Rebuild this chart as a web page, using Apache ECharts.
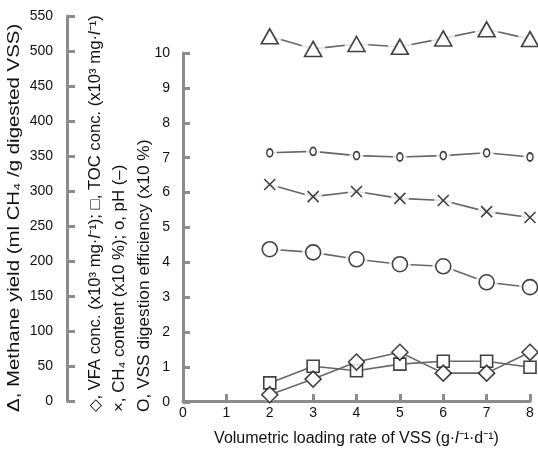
<!DOCTYPE html>
<html>
<head>
<meta charset="utf-8">
<script src="https://cdn.jsdelivr.net/npm/echarts@6/dist/echarts.min.js"></script>
<style>
    html, body { margin: 0; padding: 0; background: #fff; }
    #chart { width: 538px; height: 452px; }
</style>
</head>
<body>
<div id="chart"></div>
<script>
    // values
    const loadingRate = [2, 3, 4, 5, 6, 7, 8];
    const methaneYield = [521, 503, 510, 506, 518, 531, 517];
    const vfaConc = [0.18, 0.63, 1.12, 1.40, 0.80, 0.80, 1.40];
    const tocConc = [0.52, 1.00, 0.87, 1.06, 1.14, 1.14, 0.97];
    const ch4Content = [6.22, 5.87, 6.02, 5.82, 5.76, 5.44, 5.27];
    const phValue = [7.13, 7.17, 7.05, 7.01, 7.05, 7.13, 7.01];
    const vssEfficiency = [4.36, 4.27, 4.07, 3.93, 3.87, 3.41, 3.27];

    const FONT = "'Liberation Sans', Arial, sans-serif";
    const AXIS_GREY = '#8c8c8c';
    const LINE_GREY = '#666';

    let chart = echarts.init(document.getElementById('chart'));

    const crossPath = 'path://M0,0L10,10M10,0L0,10';

    // line + white halo + marker, drawn in three layers so lines stop short of the markers
    function makeSeries(name, values, yIndex, symbol, size, halo) {
        let pts = loadingRate.map((x, i) => [x, values[i]]);
        return [
            {
                name: name + '-line', type: 'line', xAxisIndex: 0, yAxisIndex: yIndex,
                data: pts, showSymbol: false, symbol: 'none', clip: false, z: 2,
                lineStyle: {color: LINE_GREY, width: 1.6}
            },
            {
                name: name + '-halo', type: 'scatter', xAxisIndex: 0, yAxisIndex: yIndex,
                data: pts, symbol: 'circle', symbolSize: halo, clip: false, z: 3,
                itemStyle: {color: '#fff', borderWidth: 0}
            },
            {
                name: name, type: 'scatter', xAxisIndex: 0, yAxisIndex: yIndex,
                data: pts, symbol: symbol, symbolSize: size, clip: false, z: 4,
                itemStyle: {color: symbol === crossPath ? 'none' : '#fff', borderColor: '#111', borderWidth: 1.6}
            }
        ];
    }

    let series = [].concat(
        makeSeries('Methane yield', methaneYield, 0, 'triangle', [17, 15], 24),
        makeSeries('pH', phValue, 1, 'circle', [6, 8], 14),
        makeSeries('CH4 content', ch4Content, 1, crossPath, [11, 11], 18),
        makeSeries('VSS digestion efficiency', vssEfficiency, 1, 'circle', [15, 15], 22),
        makeSeries('TOC conc.', tocConc, 1, 'rect', [12, 12], 14),
        makeSeries('VFA conc.', vfaConc, 1, 'diamond', [16, 16], 14)
    );

    let tickLabel = {color: '#111', fontFamily: FONT, fontSize: 14};

    // rotated axis titles (reading bottom to top)
    function sideTitle(x, text, size, stretch) {
        return {
            type: 'text', x: x, y: 412, rotation: Math.PI / 2, scaleX: stretch,
            style: {
                text: text, align: 'left', verticalAlign: 'middle',
                rich: {
                    n: {fontFamily: FONT, fontSize: size, fill: '#111'},
                    i: {fontFamily: FONT, fontSize: size, fill: '#111', fontStyle: 'italic'}
                }
            }
        };
    }

    let option = {
        animation: false,
        grid: [
            {left: 183, right: 8, top: 16, bottom: 50},
            {left: 183, width: 1, top: 53, bottom: 50}
        ],
        xAxis: [
            {
                gridIndex: 0, type: 'value', min: 0, max: 8, interval: 1,
                axisLine: {show: true, onZero: false, lineStyle: {color: AXIS_GREY, width: 3}},
                axisTick: {show: true, inside: true, length: 7, lineStyle: {color: AXIS_GREY, width: 3}},
                axisLabel: Object.assign({margin: 5}, tickLabel),
                splitLine: {show: false},
                name: '{n|Volumetric loading rate of VSS (g·}{i|l}{n|⁻¹·d⁻¹)}',
                nameLocation: 'middle', nameGap: 30,
                nameTextStyle: {
                    rich: {
                        n: {fontFamily: FONT, fontSize: 16, color: '#111'},
                        i: {fontFamily: FONT, fontSize: 16, color: '#111', fontStyle: 'italic'}
                    }
                }
            },
            {gridIndex: 1, type: 'value', show: false, min: 0, max: 1}
        ],
        yAxis: [
            {
                gridIndex: 0, type: 'value', position: 'left', offset: 116,
                min: 0, max: 550, interval: 50,
                axisLine: {show: true, onZero: false, lineStyle: {color: AXIS_GREY, width: 3}},
                axisTick: {show: true, inside: true, length: 8, lineStyle: {color: AXIS_GREY, width: 3}},
                axisLabel: Object.assign({margin: 14}, tickLabel),
                splitLine: {show: false}
            },
            {
                gridIndex: 0, type: 'value', show: false,
                min: 0, max: 10 * 386 / 349
            },
            {
                gridIndex: 1, type: 'value', position: 'left',
                min: 0, max: 10, interval: 1,
                axisLine: {show: true, onZero: false, lineStyle: {color: AXIS_GREY, width: 3}},
                axisTick: {show: true, inside: true, length: 7, lineStyle: {color: AXIS_GREY, width: 3}},
                axisLabel: Object.assign({margin: 13}, tickLabel),
                splitLine: {show: false}
            }
        ],
        graphic: [
            sideTitle(14, '{n|Δ, Methane yield (ml CH₄ /g digested VSS)}', 17, 1.2),
            sideTitle(96, '{n|◇, VFA conc. (x10³ mg·}{i|l}{n|⁻¹); □, TOC conc. (x10³ mg·}{i|l}{n|⁻¹)}', 16, 1.04),
            sideTitle(120, '{n|×, CH₄ content (x10 %); o, pH (–)}', 16, 1.05),
            sideTitle(145, '{n|O, VSS digestion efficiency (x10 %)}', 16, 1.08)
        ],
        series: series
    };

    chart.setOption(option);
</script>
</body>
</html>
